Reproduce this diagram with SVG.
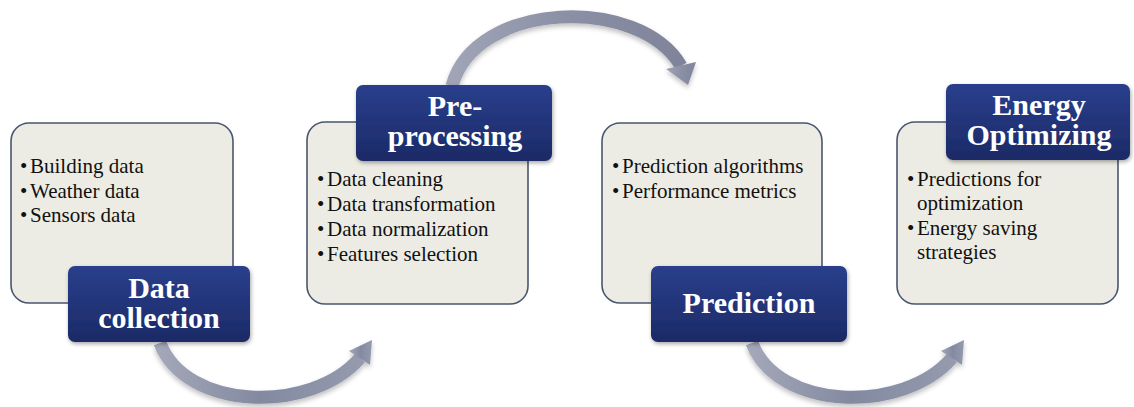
<svg xmlns="http://www.w3.org/2000/svg" width="1134" height="407" viewBox="0 0 1134 407">
  <defs>
    <style>
      .card { fill: #EDECE4; stroke: #4A556F; stroke-width: 1.6; }
      .tag { fill: url(#tagFill); filter: url(#tagShadow); }
      .tagText { font-weight: bold; font-size: 30px; fill: #FFFFFF; text-anchor: middle; }
      .item { font-size: 21px; fill: #111111; }
      .band { fill: none; stroke-width: 13; stroke-linecap: butt; }
    </style>
    <linearGradient id="tagFill" x1="0" y1="0" x2="0" y2="1">
      <stop offset="0" stop-color="#2A3F8C"/>
      <stop offset="1" stop-color="#1B2A66"/>
    </linearGradient>
    <linearGradient id="arcLow" gradientUnits="objectBoundingBox" x1="0" y1="0" x2="1" y2="0">
      <stop offset="0" stop-color="#A3A7B8"/>
      <stop offset="0.5" stop-color="#838AA0"/>
      <stop offset="1" stop-color="#959AAD"/>
    </linearGradient>
    <linearGradient id="arcHigh" gradientUnits="objectBoundingBox" x1="0" y1="0" x2="1" y2="0">
      <stop offset="0" stop-color="#A0A4B6"/>
      <stop offset="0.5" stop-color="#8B90A5"/>
      <stop offset="1" stop-color="#7F849B"/>
    </linearGradient>
    <filter id="tagShadow" x="-10%" y="-10%" width="125%" height="130%">
      <feGaussianBlur in="SourceAlpha" stdDeviation="2"/>
      <feOffset dx="1" dy="2" result="b"/>
      <feComponentTransfer><feFuncA type="linear" slope="0.35"/></feComponentTransfer>
      <feMerge><feMergeNode/><feMergeNode in="SourceGraphic"/></feMerge>
    </filter>
    <filter id="arcShadow" x="-10%" y="-20%" width="120%" height="150%">
      <feGaussianBlur in="SourceAlpha" stdDeviation="2.5"/>
      <feOffset dx="0" dy="3" result="b"/>
      <feComponentTransfer><feFuncA type="linear" slope="0.25"/></feComponentTransfer>
      <feMerge><feMergeNode/><feMergeNode in="SourceGraphic"/></feMerge>
    </filter>
  </defs>

  <rect width="1134" height="407" fill="#FFFFFF"/>

  <!-- curved arrows between the stages -->
  <g id="connectors">
    <g filter="url(#arcShadow)" fill="url(#arcLow)">
      <path class="band" stroke="url(#arcLow)" d="M160,343 C185,410 310,415 360,358"/>
      <polygon points="349,351 372,340 370,365"/>
    </g>
    <g filter="url(#arcShadow)" fill="url(#arcHigh)">
      <path class="band" stroke="url(#arcHigh)" d="M452,86 C475,0 640,-5 681,66"/>
      <polygon points="666,69 696,62 688,85"/>
    </g>
    <g filter="url(#arcShadow)" fill="url(#arcLow)">
      <path class="band" stroke="url(#arcLow)" d="M752,343 C777,410 902,415 952,358"/>
      <polygon points="941,351 964,340 962,365"/>
    </g>
  </g>

  <g font-family="Liberation Serif, serif">
  <!-- stage 1 -->
  <g id="data-collection">
    <rect class="card" x="11" y="123" width="222" height="180" rx="18"/>
    <text class="item" x="20" y="173">•</text>
    <text class="item" x="30" y="173">Building data</text>
    <text class="item" x="20" y="197.5">•</text>
    <text class="item" x="30" y="197.5">Weather data</text>
    <text class="item" x="20" y="222">•</text>
    <text class="item" x="30" y="222">Sensors data</text>
    <rect class="tag" x="68" y="266" width="182" height="76" rx="7"/>
    <text class="tagText" x="159" y="298">Data</text>
    <text class="tagText" x="159" y="328">collection</text>
  </g>

  <!-- stage 2 -->
  <g id="pre-processing">
    <rect class="card" x="307" y="122" width="221" height="182" rx="18"/>
    <text class="item" x="317" y="186">•</text>
    <text class="item" x="327" y="186">Data cleaning</text>
    <text class="item" x="317" y="211">•</text>
    <text class="item" x="327" y="211">Data transformation</text>
    <text class="item" x="317" y="236">•</text>
    <text class="item" x="327" y="236">Data normalization</text>
    <text class="item" x="317" y="261">•</text>
    <text class="item" x="327" y="261">Features selection</text>
    <rect class="tag" x="356" y="85" width="196" height="76" rx="7"/>
    <text class="tagText" x="455" y="116">Pre-</text>
    <text class="tagText" x="455" y="146">processing</text>
  </g>

  <!-- stage 3 -->
  <g id="prediction">
    <rect class="card" x="602" y="123" width="220" height="180" rx="18"/>
    <text class="item" x="612" y="173">•</text>
    <text class="item" x="622" y="173">Prediction algorithms</text>
    <text class="item" x="612" y="198">•</text>
    <text class="item" x="622" y="198">Performance metrics</text>
    <rect class="tag" x="651" y="266" width="196" height="76" rx="7"/>
    <text class="tagText" x="749" y="313">Prediction</text>
  </g>

  <!-- stage 4 -->
  <g id="energy-optimizing">
    <rect class="card" x="897" y="122" width="221" height="182" rx="18"/>
    <text class="item" x="907" y="186">•</text>
    <text class="item" x="917" y="186">Predictions for</text>
    <text class="item" x="917" y="210">optimization</text>
    <text class="item" x="907" y="235">•</text>
    <text class="item" x="917" y="235">Energy saving</text>
    <text class="item" x="917" y="259">strategies</text>
    <rect class="tag" x="946" y="84" width="184" height="76" rx="7"/>
    <text class="tagText" x="1039" y="115">Energy</text>
    <text class="tagText" x="1039" y="145">Optimizing</text>
  </g>
  </g>
</svg>
